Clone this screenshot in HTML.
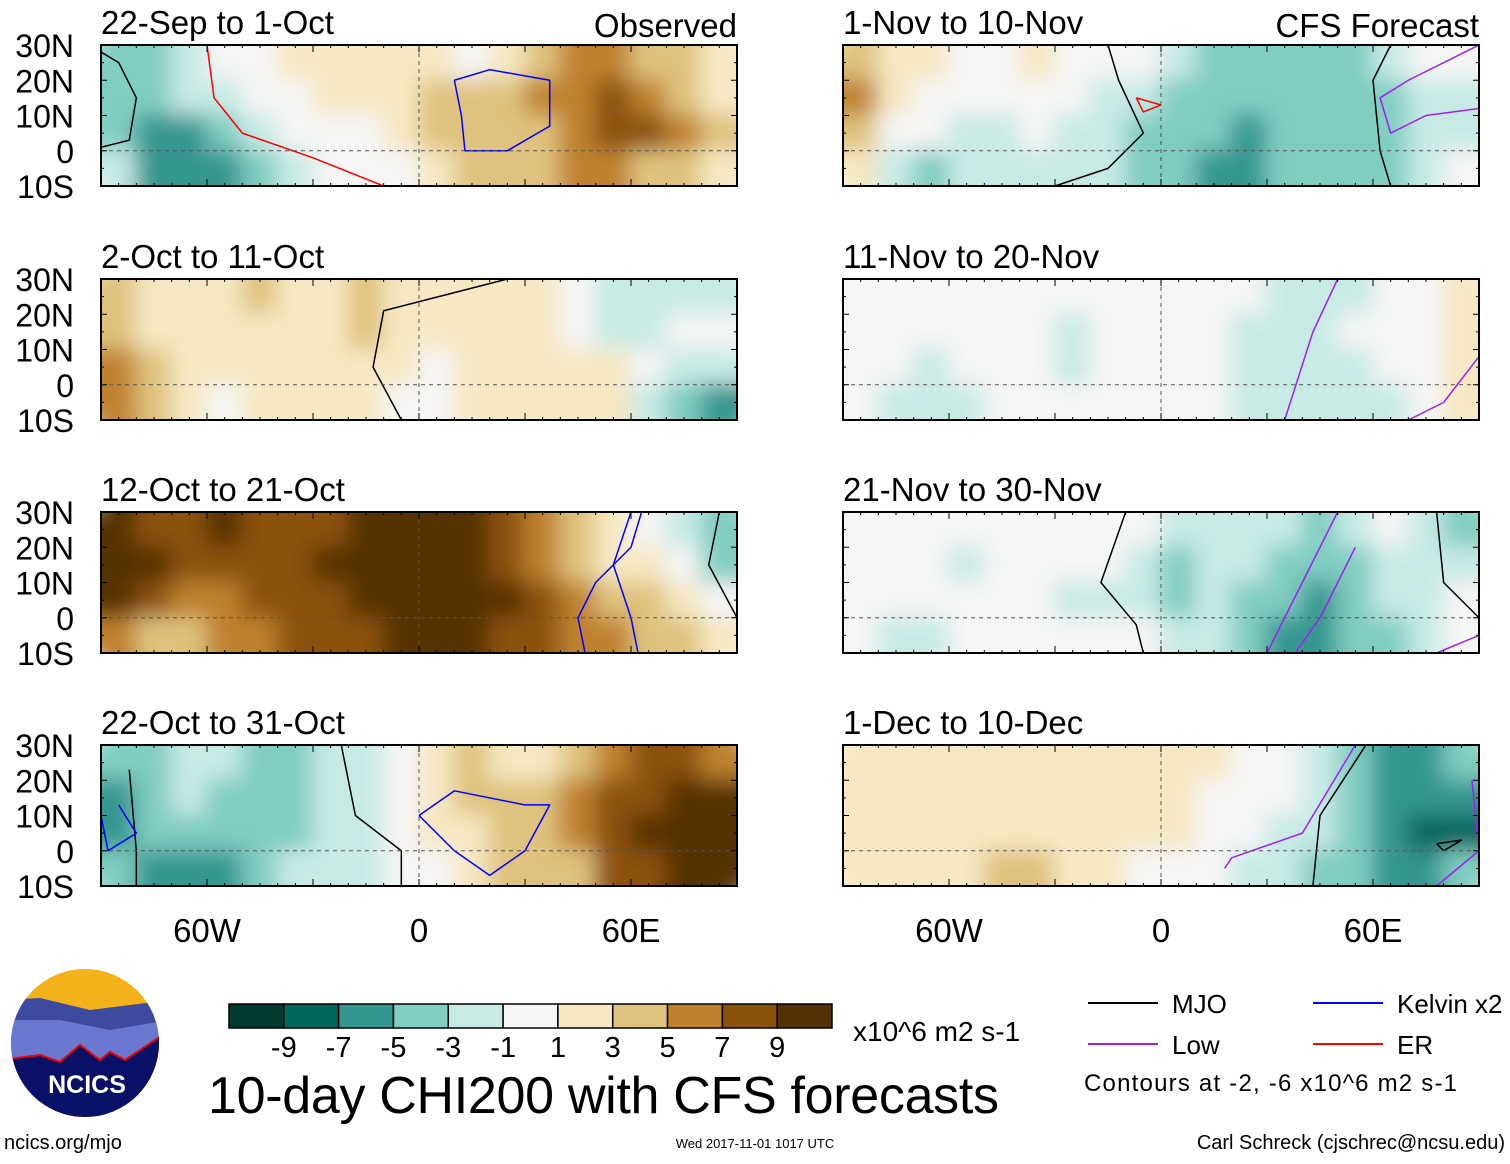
<!DOCTYPE html>
<html><head><meta charset="utf-8">
<style>
html,body{margin:0;padding:0;background:#fff;}
body{width:1510px;height:1159px;overflow:hidden;font-family:"Liberation Sans",sans-serif;}
</style></head>
<body>
<svg id="chart" width="1510" height="1159" xmlns="http://www.w3.org/2000/svg" font-family="Liberation Sans, sans-serif">
<defs>
<filter id="blur" x="-5%" y="-5%" width="110%" height="110%"><feGaussianBlur stdDeviation="11"/></filter>
</defs>
</svg>
<script>
// ---- data (CHI200 anomalies, x10^6 m2 s-1), rows 30-20N,20-10N,10-0N,0-10S; cols 90W..90E every 10deg
const panelTitles=["22-Sep to 1-Oct","2-Oct to 11-Oct","12-Oct to 21-Oct","22-Oct to 31-Oct","1-Nov to 10-Nov","11-Nov to 20-Nov","21-Nov to 30-Nov","1-Dec to 10-Dec"];
const lonTicks=["60W","0","60E"];
const latTicks=["30N","20N","10N","0","10S"];
const levels=[-9,-7,-5,-3,-1,1,3,5,7,9];
const levelColors=["#003c30","#01665e","#35978f","#80cdc1","#c7eae5","#f5f5f5","#f6e8c3","#dfc27d","#bf812d","#8c510a","#543005"];
const p1=[[-4,-4,-2,0,0,2,2,2,2,2,0,2,4,6,6,4,4,2],[-4,-4,-2,-2,0,0,2,2,2,4,4,4,6,6,8,6,4,2],[-4,-6,-6,-4,-2,0,0,0,2,4,4,4,4,6,8,8,6,4],[-2,-6,-6,-6,-4,-2,0,0,0,2,4,4,4,6,6,4,4,2]];
const p2=[[4,2,2,2,4,2,2,4,2,2,2,2,2,0,-2,-2,-2,-2],[4,2,2,2,2,2,2,4,2,2,2,2,2,0,-2,-2,0,0],[6,4,2,2,2,2,2,2,2,0,2,2,2,2,2,0,-2,-2],[6,4,2,0,2,2,2,2,0,0,2,2,2,2,2,-2,-4,-6]];
const p3=[[10,8,8,10,8,8,8,10,10,10,10,8,6,4,2,0,-2,-4],[10,10,8,8,8,8,10,10,10,10,10,8,6,4,2,2,0,-4],[10,8,6,6,8,8,8,10,10,10,10,10,8,6,4,4,2,0],[6,4,4,6,6,8,8,8,10,10,10,8,8,6,6,4,4,2]];
const p4=[[-4,-4,-2,-2,-4,-4,-2,-2,0,2,4,2,2,4,6,8,8,6],[-6,-4,-2,-4,-4,-4,-2,-2,0,2,4,4,4,6,8,8,10,10],[-6,-4,-4,-4,-4,-4,-2,-2,0,2,2,4,4,6,8,10,10,10],[-4,-6,-6,-6,-4,-2,-2,-2,0,0,2,4,4,4,8,8,10,10]];
const p5=[[4,2,2,0,0,2,0,0,0,-2,-4,-4,-4,-4,-4,-2,0,0],[6,2,0,0,0,0,0,-2,-2,-4,-4,-4,-4,-4,-4,-4,-2,-2],[4,0,0,-2,-2,0,-2,-2,-4,-4,-4,-6,-4,-4,-4,-4,-2,-2],[2,-2,-4,-2,-2,-2,-2,-2,-4,-4,-6,-6,-4,-4,-4,-4,-2,0]];
const p6=[[0,0,0,0,0,0,0,0,0,0,0,0,-2,-2,-2,0,0,2],[0,0,0,0,0,0,-2,0,0,0,0,-2,-2,-2,0,0,0,2],[0,0,-2,0,0,0,-2,0,0,0,0,-2,-2,-2,-2,0,0,2],[0,-2,-2,-2,0,0,0,0,0,0,0,-2,-2,-2,-2,-2,0,2]];
const p7=[[0,0,0,0,0,0,0,0,0,-2,-2,-2,-2,-4,-2,0,-2,-4],[0,0,0,-2,0,0,0,0,-2,-4,-2,-2,-4,-4,-4,-2,-2,-2],[0,0,0,0,0,0,-2,-2,-2,-4,-2,-4,-4,-6,-4,-2,-2,0],[0,-2,-2,0,0,0,0,0,0,-2,-2,-4,-6,-6,-4,-4,-2,0]];
const p8=[[2,2,2,2,2,2,2,2,2,2,2,0,0,-2,-4,-6,-6,-4],[2,2,2,2,2,2,2,2,2,2,0,0,0,-2,-4,-6,-6,-6],[2,2,2,2,2,2,2,2,2,2,0,0,-2,-2,-4,-6,-8,-8],[2,2,2,2,4,4,2,2,0,0,0,-2,-2,-4,-4,-6,-6,-4]];
const panelData=[p1,p2,p3,p4,p5,p6,p7,p8];
const lats=[30,20,10,0,-10];
</script>
<script>
const NS="http://www.w3.org/2000/svg";
const svg=document.getElementById('chart');
function mk(tag,attrs,parent){const e=document.createElementNS(NS,tag);for(const k in attrs)e.setAttribute(k,attrs[k]);(parent||svg).appendChild(e);return e;}
function colorOf(v){let i=0;for(const l of levels){if(v>l)i++;}return levelColors[i];}
const PW=636,PH=141;
const colX=[101,843],rowY=[45,279,512,745];
// decorative contour overlays (lon,lat pairs) per panel: [color, points]
const contours={
 0:[['#000',[[-90,1],[-82,3],[-80,15],[-85,25],[-90,28]]],['#f00',[[-60,30],[-58,15],[-50,5],[-30,-2],[-10,-10]]],['#00f',[[10,20],[20,23],[37,20],[37,7],[25,0],[13,0],[12,10],[10,20]]]],
 1:[['#000',[[25,30],[-10,21],[-13,5],[-5,-10]]]],
 2:[['#00f',[[63,30],[60,20],[50,10],[45,0],[47,-10]]],['#00f',[[60,30],[55,15],[60,0],[62,-10]]],['#000',[[85,30],[82,15],[90,0]]]],
 3:[['#000',[[-82,23],[-80,0],[-80,-10]]],['#000',[[-22,30],[-18,10],[-5,0],[-5,-10]]],['#00f',[[0,10],[10,17],[30,13],[37,13],[30,0],[20,-7],[10,0],[0,10]]],['#00f',[[-85,13],[-80,5],[-88,0],[-90,10]]]],
 4:[['#000',[[-30,-10],[-15,-5],[-5,5],[-12,20],[-15,30]]],['#000',[[65,30],[60,20],[62,0],[65,-10]]],['#a020f0',[[90,30],[70,20],[62,15],[65,5],[75,10],[90,12]]],['#f00',[[-7,15],[0,13],[-5,11],[-7,15]]]],
 5:[['#a020f0',[[50,30],[43,15],[35,-10]]],['#a020f0',[[90,8],[80,-5],[70,-10]]]],
 6:[['#000',[[-10,30],[-17,10],[-7,-2],[-5,-10]]],['#000',[[78,30],[80,10],[90,0]]],['#a020f0',[[50,30],[40,10],[30,-10]]],['#a020f0',[[90,-5],[78,-10]]],['#a020f0',[[55,20],[45,0],[38,-10]]]],
 7:[['#000',[[58,30],[45,10],[43,-10]]],['#a020f0',[[55,30],[40,5],[20,-2],[18,-5]]],['#a020f0',[[88,20],[90,0],[78,-10]]],['#000',[[78,2],[85,3],[80,0],[78,2]]]]
};
panelData.forEach((data,pi)=>{
  const x0=colX[Math.floor(pi/4)],y0=rowY[pi%4];
  const xs=lon=>x0+(lon+90)/180*PW;
  const ys=lat=>y0+(30-lat)/40*PH;
  const g=mk('g',{});
  
  
  const cid='clip'+pi;
  const cp=mk('clipPath',{id:cid},g);mk('rect',{x:x0,y:y0,width:PW,height:PH},cp);
  const cg=mk('g',{'clip-path':'url(#'+cid+')'},g);
  const fg=mk('g',{filter:'url(#blur)'},cg);
  data.forEach((row,ri)=>row.forEach((v,ci)=>{
    const lon=-90+ci*10,lat=30-ri*10;
    const r=mk('rect',{x:xs(lon)-1,y:ys(lat)-1,width:xs(lon+10)-xs(lon)+2,height:ys(lat-10)-ys(lat)+2,fill:colorOf(v)},fg);
    
    
  }));
  data.forEach((row,ri)=>{
    const lat=30-ri*10;
    mk('rect',{x:x0-30,y:ys(lat),width:30,height:PH/4,fill:colorOf(row[0])},fg);
    mk('rect',{x:x0+PW,y:ys(lat),width:30,height:PH/4,fill:colorOf(row[row.length-1])},fg);
  });
  data[0].forEach((v,ci)=>mk('rect',{x:xs(-90+ci*10),y:y0-30,width:PW/18+1,height:30,fill:colorOf(v)},fg));
  data[3].forEach((v,ci)=>mk('rect',{x:xs(-90+ci*10),y:y0+PH,width:PW/18+1,height:30,fill:colorOf(v)},fg));
  (contours[pi]||[]).forEach(([c,pts])=>{
    const p=mk('polyline',{points:pts.map(([lo,la])=>xs(lo)+','+ys(la)).join(' '),fill:'none',stroke:c,'stroke-width':1.5,'stroke-linejoin':'round'},cg);
    
    
  });
  mk('line',{x1:x0,x2:x0+PW,y1:ys(0),y2:ys(0),stroke:'#555','stroke-dasharray':'4,4','stroke-width':1},g);
  mk('line',{x1:xs(0),x2:xs(0),y1:y0,y2:y0+PH,stroke:'#555','stroke-dasharray':'4,4','stroke-width':1},g);
  mk('rect',{x:x0,y:y0,width:PW,height:PH,fill:'none',stroke:'#000','stroke-width':2},g);
  for(let lon=-90;lon<=90;lon+=5){const l=lon%30===0?7:3;mk('line',{x1:xs(lon),x2:xs(lon),y1:y0,y2:y0+l,stroke:'#000'},g);mk('line',{x1:xs(lon),x2:xs(lon),y1:y0+PH,y2:y0+PH-l,stroke:'#000'},g);}
  for(let lat=-10;lat<=30;lat+=5){const l=lat%10===0?6:3;mk('line',{x1:x0,x2:x0+l,y1:ys(lat),y2:ys(lat),stroke:'#000'},g);mk('line',{x1:x0+PW,x2:x0+PW-l,y1:ys(lat),y2:ys(lat),stroke:'#000'},g);}
  const t=mk('text',{x:x0,y:y0-11,'font-size':33},g);t.textContent=panelTitles[pi];
  
  
  if(pi<4){lats.forEach((lat,i)=>{const tl=mk('text',{x:74,y:ys(lat)+12,'font-size':32,'text-anchor':'end'},g);tl.textContent=latTicks[i];
    
    });}
  if(pi%4===3){[-60,0,60].forEach((lon,i)=>{const tl=mk('text',{x:xs(lon),y:942,'font-size':33,'text-anchor':'middle'},g);tl.textContent=lonTicks[i];
    
    });}
});
function txt(s,attrs,name){const t=mk('text',attrs);t.textContent=s;return t;}
txt('Observed',{x:737,y:37,'font-size':33,'text-anchor':'end'},'observed-label');
txt('CFS Forecast',{x:1479,y:37,'font-size':33,'text-anchor':'end'},'forecast-label');
const cb=mk('g',{});
const bw=603/levelColors.length;
levelColors.forEach((c,i)=>mk('rect',{x:229+i*bw,y:1004,width:bw,height:24,fill:c,stroke:'#000','stroke-width':1.5},cb));
levels.forEach((l,i)=>{const t=mk('text',{x:229+(i+1)*bw,y:1057,'font-size':29,'text-anchor':'middle'},cb);t.textContent=l;});
txt('x10^6 m2 s-1',{x:853,y:1041,'font-size':28},'units-label');
txt('10-day CHI200 with CFS forecasts',{x:208,y:1113,'font-size':52,textLength:791},'main-title');
const lg=[['MJO','#000',1088,1003],['Kelvin x2','#00f',1313,1003],['Low','#a020f0',1088,1044],['ER','#f00',1313,1044]];
lg.forEach(([n,c,x,y])=>{const g=mk('g',{});
  mk('line',{x1:x,x2:x+70,y1:y,y2:y,stroke:c,'stroke-width':2},g);const t=mk('text',{x:x+84,y:y+10,'font-size':26},g);t.textContent=n;});
txt('Contours at -2, -6 x10^6 m2 s-1',{x:1084,y:1091,'font-size':24,textLength:373},'contour-note');
txt('ncics.org/mjo',{x:4,y:1149,'font-size':20},'site-url');
txt('Wed 2017-11-01 1017 UTC',{x:755,y:1148,'font-size':13,'text-anchor':'middle'},'timestamp');
txt('Carl Schreck (cjschrec@ncsu.edu)',{x:1505,y:1149,'font-size':20,'text-anchor':'end'},'author');
const lgo=mk('g',{});
const lc=mk('clipPath',{id:'logoclip'},lgo);mk('circle',{cx:85,cy:1043,r:74},lc);
const li=mk('g',{'clip-path':'url(#logoclip)'},lgo);
mk('rect',{x:0,y:960,width:170,height:170,fill:'#f3b21a'},li);
mk('path',{d:'M0 1000 L40 998 L90 1010 L170 1000 L170 1130 L0 1130Z',fill:'#3d4aa0'},li);
mk('path',{d:'M0 1020 L60 1020 L110 1030 L170 1020 L170 1130 L0 1130Z',fill:'#6a78d0'},li);
mk('path',{d:'M0 1060 L40 1055 L60 1062 L80 1045 L100 1060 L110 1052 L125 1060 L170 1030 L170 1130 L0 1130Z',fill:'#0a1066',stroke:'#e00','stroke-width':2},li);
const lt=mk('text',{x:87,y:1093,'font-size':25,'font-weight':'bold',fill:'#fff','text-anchor':'middle'},lgo);lt.textContent='NCICS';
</script>
</body></html>
